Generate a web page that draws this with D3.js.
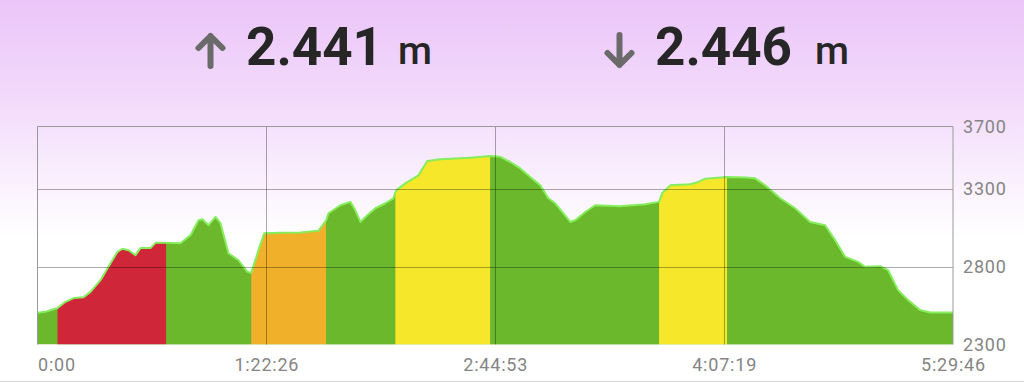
<!DOCTYPE html>
<html>
<head>
<meta charset="utf-8">
<script src="https://cdn.jsdelivr.net/npm/d3@7"></script>
<style>
  html, body { margin: 0; padding: 0; background: #fff; }
  svg { display: block; }
</style>
</head>
<body>
<div id="chart"></div>
<script>
// elevation profile: time (minutes) and altitude (m)
const timeMin = [0, 2.9, 7.2, 10.1, 13.0, 16.6, 19.1, 22.7, 26.3, 28.8, 30.6, 32.8, 35.3, 37.1, 40.7, 42.5, 46.4,
  51.5, 55.1, 58.0, 59.4, 61.6, 64.1, 65.9, 68.8, 72.4, 75.6, 77.0, 79.6, 81.7, 87.5, 94.7, 101.2, 104.0,
  104.8, 109.1, 112.7, 114.5, 116.3, 118.8, 121.7, 125.3, 128.2, 129.2, 132.5, 137.2, 140.4, 145.1, 155.9,
  163.1, 166.7, 170.3, 173.9, 177.5, 181.1, 184.0, 186.5, 189.0, 191.9, 193.7, 197.3, 200.9, 209.9, 218.9,
  223.9, 225.0, 227.9, 235.1, 238.0, 240.5, 248.4, 254.9, 258.5, 262.1, 267.5, 272.9, 278.3, 283.7, 287.3,
  290.9, 295.6, 298.1, 303.5, 306.4, 310.0, 313.6, 317.9, 321.5, 329.77];
const elevation = [2504, 2510, 2534, 2574, 2598, 2604, 2638, 2713, 2822, 2895, 2915, 2905, 2874, 2919, 2919, 2953, 2953,
  2950, 3002, 3098, 3104, 3066, 3119, 3079, 2886, 2841, 2767, 2760, 2906, 3015, 3017, 3020, 3030, 3098,
  3143, 3194, 3216, 3162, 3087, 3130, 3175, 3207, 3239, 3290, 3335, 3386, 3478, 3489, 3500,
  3510, 3505, 3472, 3431, 3376, 3322, 3239, 3207, 3151, 3087, 3098, 3151, 3194, 3188, 3200,
  3216, 3271, 3322, 3329, 3344, 3365, 3376, 3372, 3367, 3322, 3239, 3175, 3087, 3066, 2970,
  2863, 2831, 2799, 2803, 2777, 2649, 2585, 2521, 2505, 2505];

// coloured sections (minutes)
const sectionStart = [7.2, 46.4, 77.0, 104.0, 128.9, 163.1, 223.9, 248.4];
const sectionEnd   = [46.4, 77.0, 104.0, 128.9, 163.1, 223.9, 248.4, 329.77];
const sectionColor = ["#d0263a", "#6cb82c", "#f0b02a", "#6cb82c", "#f6e72a", "#6cb82c", "#f6e72a", "#6cb82c"];

const yTicks = [2300, 2800, 3300, 3700];
const xTicks = [0, 82.43, 164.88, 247.32, 329.77];
const xTickLabels = ["0:00", "1:22:26", "2:44:53", "4:07:19", "5:29:46"];

const ascent = "2.441", descent = "2.446";

const W = 1024, H = 382;
const plot = { left: 37.5, right: 953, top: 126.5, bottom: 344.5 };

const svg = d3.select("#chart").append("svg").attr("width", W).attr("height", H);

const defs = svg.append("defs");
const bg = defs.append("linearGradient").attr("id", "bg").attr("x1", 0).attr("y1", 0).attr("x2", 0).attr("y2", 1);
bg.append("stop").attr("offset", "0%").attr("stop-color", "#ebc5f8");
bg.append("stop").attr("offset", "28%").attr("stop-color", "#f3dcfb");
bg.append("stop").attr("offset", "50%").attr("stop-color", "#fbf3fe");
bg.append("stop").attr("offset", "62%").attr("stop-color", "#ffffff");
bg.append("stop").attr("offset", "100%").attr("stop-color", "#ffffff");
svg.append("rect").attr("width", W).attr("height", H).attr("fill", "url(#bg)");

const x = d3.scaleLinear().domain([0, 329.77]).range([plot.left, plot.right]);
const y = d3.scaleLinear().domain([2300, 3700]).range([plot.bottom, plot.top]);

const pts = timeMin.map((t, i) => [t, elevation[i]]);

const area = d3.area().x(d => x(d[0])).y0(y(2300)).y1(d => y(d[1]));
const line = d3.line().x(d => x(d[0])).y(d => y(d[1]));

defs.append("clipPath").attr("id", "profile").append("path").attr("d", area(pts));

const fills = svg.append("g").attr("clip-path", "url(#profile)");
fills.append("rect")
  .attr("x", x(0)).attr("y", plot.top)
  .attr("width", x(329.77) - x(0)).attr("height", plot.bottom - plot.top)
  .attr("fill", "#6cb82c");
fills.selectAll("rect.sec").data(sectionStart).join("rect").attr("class", "sec")
  .attr("x", d => x(d)).attr("y", plot.top)
  .attr("width", (d, i) => x(sectionEnd[i]) - x(d))
  .attr("height", plot.bottom - plot.top)
  .attr("fill", (d, i) => sectionColor[i]);

svg.append("path").attr("d", line(pts))
  .attr("fill", "none").attr("stroke", "#84ee5c").attr("stroke-width", 2).attr("stroke-linejoin", "round");

// grid
const grid = svg.append("g").attr("stroke", "#000").attr("stroke-opacity", 0.33).attr("stroke-width", 1);
grid.selectAll("line.h").data(yTicks.slice(1, 3)).join("line").attr("class", "h")
  .attr("x1", plot.left).attr("x2", plot.right)
  .attr("y1", d => Math.round(y(d)) + 0.5).attr("y2", d => Math.round(y(d)) + 0.5);
grid.selectAll("line.v").data(xTicks.slice(1, 4)).join("line").attr("class", "v")
  .attr("x1", d => Math.round(x(d)) + 0.5).attr("x2", d => Math.round(x(d)) + 0.5)
  .attr("y1", plot.top).attr("y2", plot.bottom);
svg.append("path")
  .attr("d", `M${plot.left},${plot.bottom}V${plot.top}H${plot.right}V${plot.bottom}`)
  .attr("fill", "none").attr("stroke", "#9a9a9a").attr("stroke-width", 1);

// axes
const yAxis = svg.append("g").attr("transform", `translate(${plot.right},0)`)
  .call(d3.axisRight(y).tickValues(yTicks).tickSize(0).tickPadding(10).tickFormat(d3.format("d")));
const xAxis = svg.append("g").attr("transform", `translate(0,${plot.bottom})`)
  .call(d3.axisBottom(x).tickValues(xTicks).tickSize(0).tickPadding(14).tickFormat((d, i) => xTickLabels[i]));
[yAxis, xAxis].forEach(a => {
  a.select(".domain").remove();
  a.selectAll("text").attr("fill", "#858585").attr("font-family", "Roboto, 'Liberation Sans', sans-serif")
    .attr("font-size", 18).attr("letter-spacing", 0.8);
});
xAxis.selectAll("text").filter((d, i) => i === 0).attr("text-anchor", "start");

// bottom separator
svg.append("line").attr("x1", 0).attr("x2", W).attr("y1", 381.5).attr("y2", 381.5)
  .attr("stroke", "#d4d4d4").attr("stroke-width", 1);

// header totals
const header = [
  { cx: 210.5, up: true, value: ascent, vx: 246, ux: 398 },
  { cx: 619.5, up: false, value: descent, vx: 655, ux: 815 }
];
const hg = svg.append("g");
header.forEach(h => {
  const tip = h.up ? 36 : 65, tail = h.up ? 66 : 35, dir = h.up ? 1 : -1;
  hg.append("path")
    .attr("d", `M${h.cx},${tail}V${tip}M${h.cx - 12},${tip + dir * 12}L${h.cx},${tip}L${h.cx + 12},${tip + dir * 12}`)
    .attr("fill", "none").attr("stroke", "#6a6a6a").attr("stroke-width", 6)
    .attr("stroke-linecap", "round").attr("stroke-linejoin", "round");
  hg.append("text").attr("x", h.vx).attr("y", 65).text(h.value)
    .attr("font-family", "Roboto, 'Liberation Sans', sans-serif").attr("font-weight", 700)
    .attr("font-size", 53).attr("fill", "#262626");
  hg.append("text").attr("x", h.ux).attr("y", 64).text("m")
    .attr("font-family", "Roboto, 'Liberation Sans', sans-serif").attr("font-weight", 500)
    .attr("font-size", 39).attr("fill", "#262626");
});
</script>
</body>
</html>
